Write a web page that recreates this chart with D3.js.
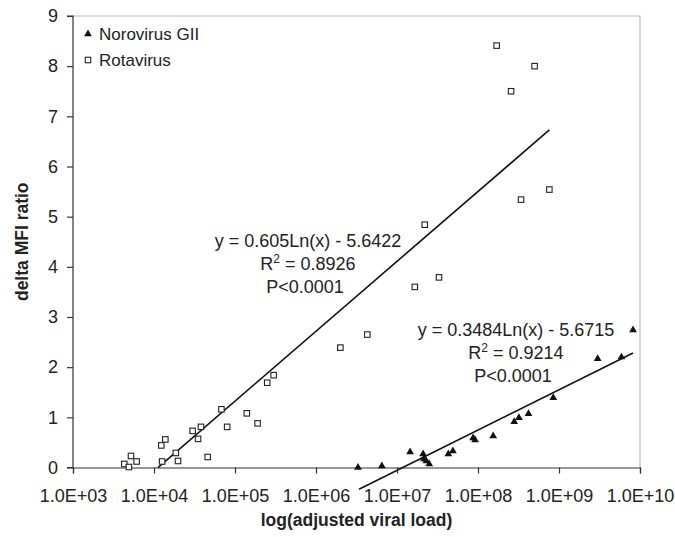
<script src="https://d3js.org/d3.v7.min.js"></script>

<style type="text/css">
  body { margin: 0; background: #fff; }
  svg { width: 675px; height: 537px; font-family: "Liberation Sans", Arial, sans-serif; }
  .tick text { fill: #222; }
</style>

<body></body>

<script>
  // data: x = adjusted viral load, y = delta MFI ratio
  var rotaX = [4.3e3, 4.9e3, 5.2e3, 6.1e3, 1.23e4, 1.38e4, 1.26e4, 1.86e4, 1.98e4, 3.0e4,
               3.5e4, 3.8e4, 4.6e4, 6.8e4, 8.0e4, 1.4e5, 1.9e5, 2.5e5, 3.0e5, 2.0e6,
               4.3e6, 1.66e7, 3.3e7, 2.2e7, 1.7e8, 2.56e8, 5.0e8, 3.4e8, 7.6e8];
  var rotaY = [0.07, 0.01, 0.23, 0.12, 0.44, 0.56, 0.12, 0.29, 0.13, 0.73,
               0.57, 0.81, 0.21, 1.16, 0.81, 1.08, 0.88, 1.69, 1.84, 2.39,
               2.65, 3.60, 3.79, 4.84, 8.41, 7.50, 8.00, 5.34, 5.54];

  var noroX = [3.3e6, 6.5e6, 1.45e7, 2.1e7, 2.15e7, 2.3e7, 2.5e7, 4.3e7, 4.9e7, 8.7e7,
               9.2e7, 1.54e8, 2.8e8, 3.2e8, 4.2e8, 8.5e8, 3.0e9, 5.9e9, 8.2e9];
  var noroY = [0.00, 0.03, 0.31, 0.27, 0.17, 0.13, 0.07, 0.27, 0.33, 0.59,
               0.55, 0.63, 0.91, 0.99, 1.07, 1.39, 2.17, 2.20, 2.74];

  // trendlines y = a*ln(x) + b, drawn between x0 and x1
  var rotaFit = {a: 0.605, b: -5.6422, x0: 1.12e4, x1: 7.6e8};
  var noroFit = {a: 0.3484, b: -5.6715, x0: 3.4e6, x1: 8.2e9};

  var rotaLabel = ["y = 0.605Ln(x) - 5.6422", "0.8926", "P<0.0001"];
  var noroLabel = ["y = 0.3484Ln(x) - 5.6715", "0.9214", "P<0.0001"];

  var xTicks = [1e3, 1e4, 1e5, 1e6, 1e7, 1e8, 1e9, 1e10];
  var yTicks = [0, 1, 2, 3, 4, 5, 6, 7, 8, 9];

  var width = 675, height = 537;
  var margin = {top: 16, right: 35, bottom: 69.5, left: 73};

  var svg = d3.select('body').append('svg');

  var xScale = d3.scaleLog()
    .domain([1e3, 1e10])
    .range([margin.left, width - margin.right]);
  var yScale = d3.scaleLinear()
    .domain([0, 9])
    .range([height - margin.bottom, margin.top]);

  // top / right frame (light gray)
  svg.append('path')
    .attr('d', 'M' + xScale(1e3) + ',' + yScale(9) + 'H' + xScale(1e10) + 'V' + yScale(0))
    .attr('fill', 'none')
    .attr('stroke', '#bbb')
    .attr('stroke-width', 1.2);

  // axes
  var xAxis = d3.axisBottom(xScale)
    .tickValues(xTicks)
    .tickSize(6)
    .tickPadding(16)
    .tickFormat(d => '1.0E+' + String(Math.round(Math.log10(d))).padStart(2, '0'));
  var yAxis = d3.axisLeft(yScale)
    .tickValues(yTicks)
    .tickSize(6)
    .tickPadding(9)
    .tickFormat(d3.format('d'));

  var gx = svg.append('g')
    .attr('transform', 'translate(' + [0, yScale(0)] + ')')
    .call(xAxis);
  var gy = svg.append('g')
    .attr('transform', 'translate(' + [xScale(1e3), 0] + ')')
    .call(yAxis);
  [gx, gy].forEach(g => {
    g.select('.domain').attr('stroke', '#333').attr('stroke-width', 1.2);
    g.selectAll('.tick line').attr('stroke', '#333').attr('stroke-width', 1.2);
    g.selectAll('.tick text').style('font-size', '18px').style('font-family', '"Liberation Sans", Arial, sans-serif');
  });
  gy.select('.domain').attr('d', 'M-6,' + yScale(9) + 'H0V' + yScale(0) + 'H-6');

  // axis titles
  svg.append('text')
    .attr('x', (xScale(1e3) + xScale(1e10)) / 2)
    .attr('y', 526)
    .attr('text-anchor', 'middle')
    .style('font-size', '17.5px')
    .style('font-weight', 'bold')
    .attr('fill', '#222')
    .text('log(adjusted viral load)');
  svg.append('text')
    .attr('transform', 'translate(28,' + (yScale(0) + yScale(9)) / 2 + ') rotate(-90)')
    .attr('text-anchor', 'middle')
    .style('font-size', '17.5px')
    .style('font-weight', 'bold')
    .attr('fill', '#222')
    .text('delta MFI ratio');

  // trendlines
  function fitLine(f) {
    return [f.x0, f.x1].map(x => [xScale(x), yScale(f.a * Math.log(x) + f.b)]);
  }
  [rotaFit, noroFit].forEach(f => {
    svg.append('path')
      .attr('d', d3.line()(fitLine(f)))
      .attr('fill', 'none')
      .attr('stroke', '#111')
      .attr('stroke-width', 1.6);
  });

  // rotavirus squares
  var rota = rotaX.map((x, i) => ({x: x, y: rotaY[i]}));
  var noro = noroX.map((x, i) => ({x: x, y: noroY[i]}));
  var sq = 5.5;
  svg.selectAll('rect.rota')
    .data(rota).enter().append('rect')
    .attr('class', 'rota')
    .attr('x', d => xScale(d.x) - sq / 2)
    .attr('y', d => yScale(d.y) - sq / 2)
    .attr('width', sq).attr('height', sq)
    .attr('fill', '#fff')
    .attr('stroke', '#222')
    .attr('stroke-width', 1.1);

  // norovirus triangles
  var tri = d3.symbol(d3.symbolTriangle, 26);
  svg.selectAll('path.noro')
    .data(noro).enter().append('path')
    .attr('class', 'noro')
    .attr('d', tri)
    .attr('transform', d => 'translate(' + [xScale(d.x), yScale(d.y)] + ')')
    .attr('fill', '#111');

  // legend
  var legend = svg.append('g').style('font-size', '17px').attr('fill', '#222');
  legend.append('path').attr('d', tri).attr('transform', 'translate(88,34)').attr('fill', '#111');
  legend.append('text').attr('x', 99).attr('y', 40).text('Norovirus GII');
  legend.append('rect').attr('x', 85.25).attr('y', 57.25).attr('width', sq).attr('height', sq)
    .attr('fill', '#fff').attr('stroke', '#222').attr('stroke-width', 1.1);
  legend.append('text').attr('x', 99).attr('y', 66).text('Rotavirus');

  // equation labels
  function eqLabel(lines, x, y) {
    var g = svg.append('g').style('font-size', '18px').attr('fill', '#222').attr('text-anchor', 'middle');
    g.append('text').attr('x', x).attr('y', y).text(lines[0]);
    var r = g.append('text').attr('x', x).attr('y', y + 23);
    r.append('tspan').text('R');
    r.append('tspan').attr('dy', -7).style('font-size', '12px').text('2');
    r.append('tspan').attr('dy', 7).text(' = ' + lines[1]);
    g.append('text').attr('x', x - 3).attr('y', y + 46).text(lines[2]);
  }
  eqLabel(rotaLabel, 308, 247);
  eqLabel(noroLabel, 516, 336);
</script>
